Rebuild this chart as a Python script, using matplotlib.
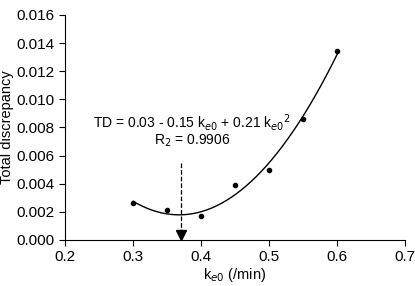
import numpy as np
import matplotlib.pyplot as plt

plt.rcParams['font.family'] = ['Liberation Sans', 'DejaVu Sans']

# data
k_e0 = [0.30, 0.35, 0.40, 0.45, 0.50, 0.55, 0.60]
td = [0.0026, 0.0021, 0.0017, 0.0039, 0.0050, 0.0086, 0.0134]
k_min = 0.37
xticks = [0.2, 0.3, 0.4, 0.5, 0.6, 0.7]
yticks = [0.000, 0.002, 0.004, 0.006, 0.008, 0.010, 0.012, 0.014, 0.016]

fig = plt.figure(figsize=(4.15, 2.86), dpi=100)
ax = fig.add_axes([0.157, 0.161, 0.819, 0.787])

# quadratic fit through the points
c = np.polyfit(k_e0, td, 2)
xs = np.linspace(min(k_e0), max(k_e0), 200)
ax.plot(xs, np.polyval(c, xs), color='black', lw=1)
ax.plot(k_e0, td, 'o', color='black', ms=3)

# dashed arrow to the minimum
ax.plot([k_min, k_min], [0.0055, 0.0006], '--', color='black', lw=0.9)
ax.plot([k_min], [0.00035], marker='v', color='black', ms=7, clip_on=False)

ax.text(0.387, 0.0080, r'TD = 0.03 - 0.15 k$_{e0}$ + 0.21 k$_{e0}$$^2$',
        ha='center', va='baseline', fontsize=10)
ax.text(0.387, 0.0068, r'R$_2$ = 0.9906', ha='center', va='baseline', fontsize=10)

ax.set_xlim(0.2, 0.7)
ax.set_ylim(0, 0.016)
ax.set_xticks(xticks)
ax.set_yticks(yticks)
ax.set_xticklabels(['%.1f' % t for t in xticks])
ax.set_yticklabels(['%.3f' % t for t in yticks])
ax.spines['top'].set_visible(False)
ax.spines['right'].set_visible(False)
ax.tick_params(direction='out', length=4, labelsize=11)
ax.set_xlabel(r'k$_{e0}$ (/min)', fontsize=10.5, labelpad=1)
ax.set_ylabel('Total discrepancy', fontsize=10.5, labelpad=2)

fig.savefig('out.png', dpi=100)
